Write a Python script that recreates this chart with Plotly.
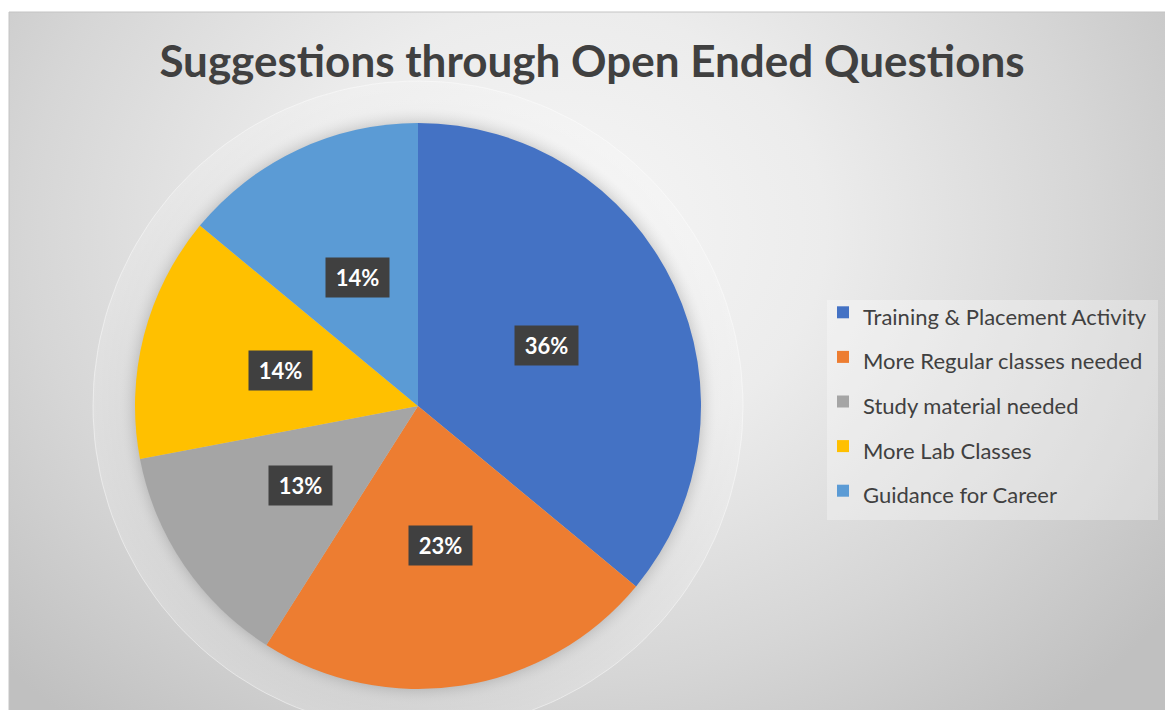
import math
import plotly.graph_objects as go

# ---- data ----
categories = ["Training & Placement Activity", "More Regular classes needed",
              "Study material needed", "More Lab Classes", "Guidance for Career"]
values = [36, 23, 13, 14, 14]
colors = ["#4472C4", "#ED7D31", "#A5A5A5", "#FFC000", "#5B9BD5"]
title_text = "Suggestions through Open Ended Questions"

# ---- layout constants (pixels) ----
W, H = 1165, 710
X0, Y0 = 9, 12            # chart area top-left (white outside)
CX, CY, R = 418, 406, 283  # pie centre / radius
FONT = "Lato"

fig = go.Figure()

# background radial gradient (decorative)
gcx, gcy, gax, gay = 560, 230, 760, 640
fig.add_trace(go.Scatter(
    x=[gcx - gax, gcx + gax, gcx + gax, gcx - gax, gcx - gax],
    y=[gcy - gay, gcy - gay, gcy + gay, gcy + gay, gcy - gay],
    mode="lines", line=dict(width=0), fill="toself",
    fillgradient=dict(type="radial",
                      colorscale=[[0, "#f6f6f6"], [0.35, "#ececec"], [0.7, "#d6d6d6"], [1, "#c0c0c0"]]),
    hoverinfo="skip", showlegend=False))

# soft halo around pie (decorative)
HR = 325
ang = [i * 2 * math.pi / 180 for i in range(181)]
fig.add_trace(go.Scatter(
    x=[CX + HR * math.cos(a) for a in ang],
    y=[CY + HR * math.sin(a) for a in ang],
    mode="lines", line=dict(width=1, color="rgba(255,255,255,0.45)"), fill="toself",
    fillgradient=dict(type="radial",
                      colorscale=[[0, "rgba(120,120,120,0.3)"], [0.87, "rgba(130,130,130,0.25)"],
                                  [0.92, "rgba(255,255,255,0.08)"], [1, "rgba(255,255,255,0.18)"]]),
    hoverinfo="skip", showlegend=False))

# pie
fig.add_trace(go.Pie(
    labels=[f'<span style="font-size:22px">{c}</span>' for c in categories],
    values=values,
    marker=dict(colors=colors, line=dict(width=0)),
    sort=False, direction="clockwise", rotation=0,
    textinfo="none", hoverinfo="label+percent",
    domain=dict(x=[(CX - R) / W, (CX + R) / W],
                y=[(H - CY - R) / H, (H - CY + R) / H]),
))

# data labels: boxed percentages at the slice mid-angles
total = sum(values)
annotations = []
cum = 0
for v in values:
    mid = (cum + v / 2) / total * 2 * math.pi
    cum += v
    lx = CX + 0.5 * R * math.sin(mid)
    ly = CY - 0.5 * R * math.cos(mid)
    annotations.append(dict(
        x=lx, y=ly, xref="x", yref="y", showarrow=False,
        text=f"<b>{round(v / total * 100)}%</b>",
        font=dict(family=FONT, size=22, color="white"),
        bgcolor="#404040", width=57, height=33, borderpad=3,
    ))

fig.update_layout(
    width=W, height=H,
    margin=dict(l=0, r=0, t=0, b=0),
    paper_bgcolor="white", plot_bgcolor="rgba(0,0,0,0)",
    xaxis=dict(range=[X0, W], domain=[X0 / W, 1], visible=False, fixedrange=True),
    yaxis=dict(range=[H, Y0], domain=[0, (H - Y0) / H], visible=False, fixedrange=True),
    title=dict(text=f"<b>{title_text}</b>", x=592 / W, xanchor="center",
               y=1 - 62 / H, yanchor="middle",
               font=dict(family=FONT, size=44, color="#404040")),
    legend=dict(x=823 / W, xanchor="left", y=1 - 285 / H, yanchor="top",
                bgcolor="rgba(0,0,0,0)", borderwidth=0,
                font=dict(family=FONT, size=32, color="#404040"),
                itemclick=False, itemdoubleclick=False),
    annotations=annotations,
    shapes=[dict(type="rect", xref="x", yref="y", x0=827, x1=1158, y0=300, y1=520,
                 fillcolor="rgba(255,255,255,0.3)", line=dict(width=0), layer="above"),
            dict(type="line", xref="paper", yref="paper",
                 x0=X0 / W, x1=1, y0=(H - Y0) / H, y1=(H - Y0) / H,
                 line=dict(color="#c4c4c4", width=1)),
            dict(type="line", xref="paper", yref="paper",
                 x0=X0 / W, x1=X0 / W, y0=0, y1=(H - Y0) / H,
                 line=dict(color="#c4c4c4", width=1))],
)

fig.write_html("out.html", config={"displayModeBar": False},
               post_script="document.body.style.margin='0';document.body.style.overflow='hidden';")
